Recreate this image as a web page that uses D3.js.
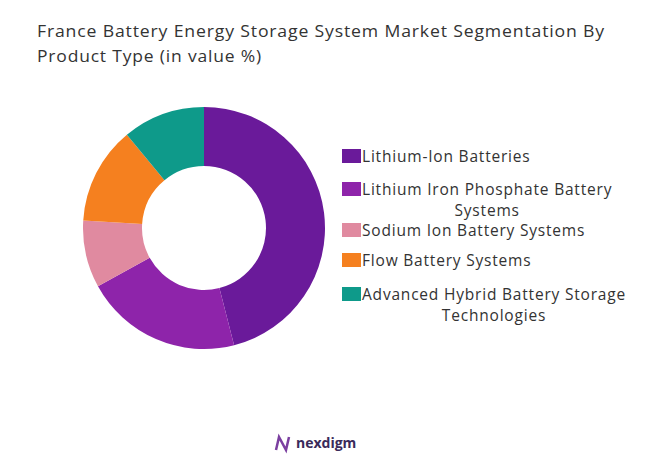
<!DOCTYPE html><html><head><meta charset="utf-8"><script src="https://cdn.jsdelivr.net/npm/d3@7"></script>
<style>body{margin:0;background:#fff}text{font-family:"Open Sans",sans-serif;letter-spacing:0.8px}</style></head><body>
<svg id="c" width="655" height="475"></svg>
<script>
const categories=["Lithium-Ion Batteries","Lithium Iron Phosphate Battery Systems","Sodium Ion Battery Systems","Flow Battery Systems","Advanced Hybrid Battery Storage Technologies"];
const legendLines=[["Lithium-Ion Batteries"],["Lithium Iron Phosphate Battery","Systems"],["Sodium Ion Battery Systems"],["Flow Battery Systems"],["Advanced Hybrid Battery Storage","Technologies"]];
const values=[46,21,9,13,11];
const colors=["#6a1a9a","#8e24aa","#e08aa0","#f5801f","#0e9a8a"];
const svg=d3.select("#c");
const t1=svg.append("text").attr("x",37).attr("y",37).attr("font-size",17).attr("fill","#333").text("France Battery Energy Storage System Market Segmentation By");
const t2=svg.append("text").attr("x",37).attr("y",62).attr("font-size",17).attr("fill","#333").text("Product Type (in value %)");
t1.attr("textLength",568).attr("lengthAdjust","spacingAndGlyphs");
t2.attr("textLength",225).attr("lengthAdjust","spacingAndGlyphs");
const pie=d3.pie().sort(null)(values);
const arc=d3.arc().innerRadius(62).outerRadius(121);
const g=svg.append("g").attr("transform","translate(204,228)");
g.selectAll("path").data(pie).join("path").attr("d",arc).attr("fill",(d,i)=>colors[i]);
const ys=[157,190,231,261,295];
svg.append("clipPath").attr("id","cl").append("rect").attr("x",0).attr("y",0).attr("width",628).attr("height",475);
const lg=svg.append("g").attr("clip-path","url(#cl)");
legendLines.forEach((lines,i)=>{
  lg.append("rect").attr("x",342).attr("y",ys[i]-8).attr("width",19).attr("height",14).attr("fill",colors[i]);
  const t=lg.append("text").attr("x",362).attr("y",ys[i]+5).attr("font-size",15.5).attr("fill","#333").text(lines[0]);
  if(lines[1]){
    const w=t.node().getComputedTextLength();
    lg.append("text").attr("x",362+w/2).attr("y",ys[i]+26).attr("text-anchor","middle").attr("font-size",15.5).attr("fill","#333").text(lines[1]);
  }
});
svg.append("text").attr("x",296).attr("y",448).attr("font-size",14).attr("font-weight","bold").attr("fill","#3a2a5a").style("letter-spacing","0").text("nexdigm");
svg.append("path").attr("d","M276 450 L279 437 L286 450 L289 437").attr("fill","none").attr("stroke","#7b3fa0").attr("stroke-width",2.5);
</script></body></html>
